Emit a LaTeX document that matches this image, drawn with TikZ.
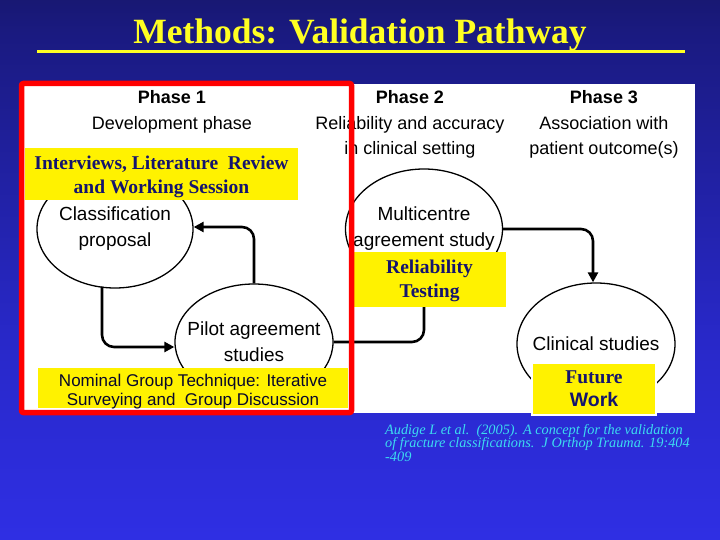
\documentclass[tikz,border=0pt]{standalone}
\usepackage{fontspec}
\setmainfont{Liberation Serif}
\newfontfamily\arialf{Liberation Sans}
\usetikzlibrary{shapes.geometric,arrows.meta}
\definecolor{bgA}{HTML}{1A1A80}
\definecolor{bgB}{HTML}{3232EE}
\definecolor{bgC}{HTML}{3030E8}
\definecolor{bgD}{HTML}{2828C8}
\definecolor{bgE}{HTML}{1A1A80}
\definecolor{bgF}{HTML}{0E0E40}
\definecolor{bgG}{HTML}{020208}
\definecolor{navytext}{HTML}{14146E}
\definecolor{citecol}{HTML}{3CDCF0}
\definecolor{titleyel}{HTML}{FFFF22}
\pgfdeclareverticalshading{bgshade}{100bp}{color(0bp)=(bgA); color(0.9bp)=(bgA); color(1bp)=(bgB); color(22bp)=(bgC); color(44bp)=(bgD); color(72bp)=(bgE); color(87bp)=(bgF); color(100bp)=(bgG)}
\begin{document}
\begin{tikzpicture}[x=1pt,y=-1pt,
  titlestyle/.style={font=\bfseries\fontsize{35.5}{38}\selectfont, text=titleyel, inner sep=0},
  phase/.style={font=\arialf\fontsize{18}{25.5}\selectfont, align=center, inner sep=0},
  ell/.style={ellipse, draw, line width=1.3pt, inner sep=0},
  elltext/.style={font=\arialf\fontsize{19}{26}\selectfont, align=center, inner sep=0},
  flow/.style={line width=2.6pt, rounded corners=12pt},
  tip/.style={-{Triangle[length=10pt,width=10pt]}},
  ybox/.style={fill=yellow, inner sep=0, align=center, text=navytext},
  boxtext/.style={inner sep=0, align=center, text=navytext},
  cite/.style={font=\itshape\fontsize{14.3}{13.5}\selectfont, text=citecol, align=left, inner sep=0, anchor=north west}
]
\useasboundingbox (0,0) rectangle (720,540);
\shade[shading=bgshade] (0,0) rectangle (720,540);
\node[titlestyle] (title) at (360,35) {Methods: Validation Pathway};
\coordinate (ulA) at (37,52);
\coordinate (ulB) at (685,52);
\draw[titleyel, line width=3pt] (ulA) -- (ulB);
\fill[white] (22,84) rectangle (695,413);
% phase headers
\node[phase] (ph1) at (172,112) {\textbf{Phase 1}\\Development phase};
\node[phase] (ph2) at (410,124.5) {\textbf{Phase 2}\\Reliability and accuracy\\in clinical setting};
\node[phase] (ph3) at (604,124.5) {\textbf{Phase 3}\\Association with\\patient outcome(s)};
% ellipses
\node[ell, minimum width=156pt, minimum height=118pt] (cls) at (115,229) {};
\node[elltext] (clsT) at (cls.center) {Classification\\proposal};
\node[ell, minimum width=158pt, minimum height=116pt] (pilot) at (254,342) {};
\node[elltext] (pilotT) at (pilot.center) {Pilot agreement\\studies};
\node[ell, minimum width=157pt, minimum height=120pt] (multi) at (424,229) {};
\node[elltext] (multiT) at (multi.center) {Multicentre\\agreement study};
\node[ell, minimum width=158pt, minimum height=122pt] (clin) at (596,344) {};
\node[elltext] (clinT) at (clin.center) {Clinical studies};
% connectors
\draw[flow, tip] ([xshift=-13pt,yshift=2pt]cls.south) |- ([yshift=-5pt]pilot.west);
\draw[flow, tip] (pilot.north) |- ([yshift=2pt]cls.east);
\draw[flow] (pilot.east) -| (multi.south);
\draw[flow, tip] (multi.east) -| ([xshift=-3pt]clin.north);
% yellow boxes
\node[ybox, minimum width=273pt, minimum height=52pt] (lit) at (161.5,174) {};
\node[boxtext, font=\bfseries\fontsize{19.5}{24}\selectfont] (litT) at ([yshift=-3pt]lit.center) {Interviews, Literature\ \ Review\\and Working Session};
\node[ybox, minimum width=153pt, minimum height=55pt] (rel) at (429.5,279.5) {};
\node[boxtext, font=\bfseries\fontsize{19.5}{24}\selectfont] (relT) at ([yshift=-1.5pt]rel.center) {Reliability\\Testing};
\node[ybox, minimum width=310pt, minimum height=40pt] (ngt) at (193,388) {};
\node[boxtext, font=\arialf\fontsize{17}{18.5}\selectfont, text=black!60!navytext] (ngtT) at ([yshift=-3.5pt]ngt.center) {Nominal Group Technique: Iterative\\Surveying and\ \ Group Discussion};
\node[ybox, draw=white, line width=2pt, minimum width=124pt, minimum height=52pt, font=\fontsize{19.5}{23}\selectfont] (fut) at (594,389) {\bfseries Future\\{\arialf\bfseries Work}};
% red frame
\draw[red, line width=5.5pt, rounded corners=2pt] (21.5,83.5) rectangle (351.5,412.5);
% citation
\node[cite] (ref) at (385,424) {Audige L et al.\ \ (2005). A concept for the validation\\of fracture classifications.\ \ J Orthop Trauma. 19:404\\-409};
\end{tikzpicture}
\end{document}
